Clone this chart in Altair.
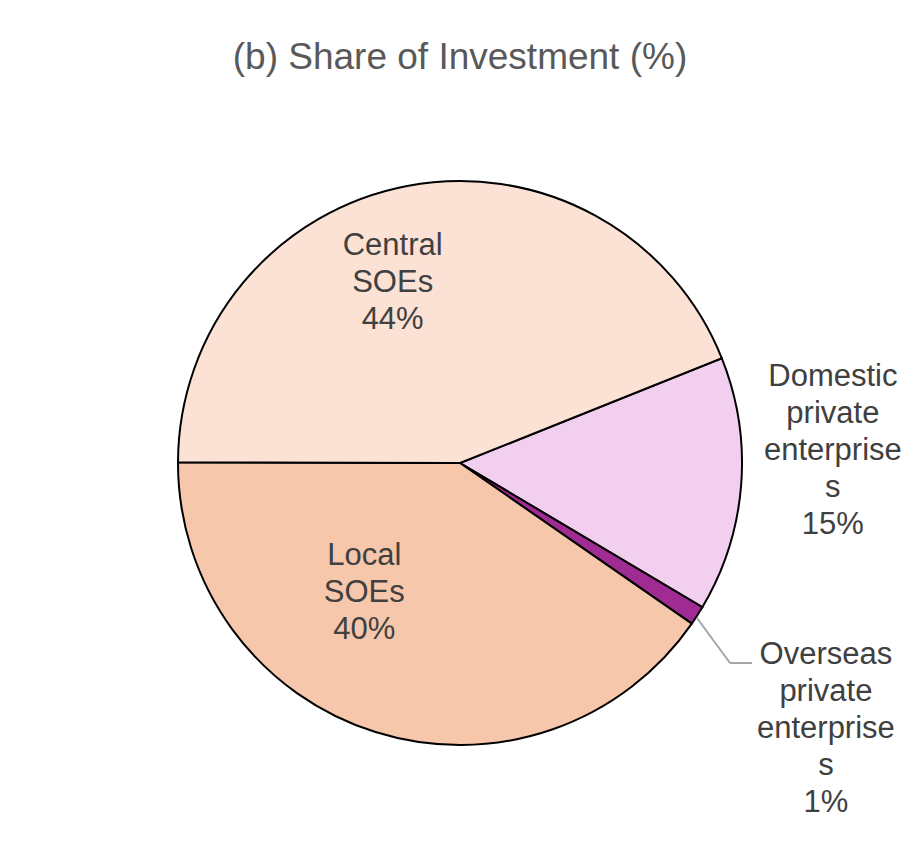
import math

import altair as alt
import pandas as pd

categories = [
    "Domestic private enterprises",
    "Overseas private enterprises",
    "Local SOEs",
    "Central SOEs",
]
label_names = [
    "Domestic\nprivate\nenterprise\ns",
    "Overseas\nprivate\nenterprise\ns",
    "Local\nSOEs",
    "Central\nSOEs",
]
shares = [14.6, 1.1, 40.4, 43.9]
colors = ["#F2CEEF", "#A02B93", "#F7C7AC", "#FBE2D5"]
title_text = "(b) Share of Investment (%)"

df = pd.DataFrame(
    {
        "category": categories,
        "share": shares,
        "order": list(range(len(categories))),
        "label": [f"{n}\n{round(s)}%" for n, s in zip(label_names, shares)],
    }
)

# Central SOEs slice ends at roughly 68 degrees clockwise from 12 o'clock
start = math.radians(68.2)

base = alt.Chart(df).encode(
    alt.Theta("share:Q").stack(True).scale(range=[start, start + 2 * math.pi]),
    alt.Order("order:Q"),
)

pie = base.mark_arc(outerRadius=282, stroke="black", strokeWidth=2).encode(
    alt.Color("category:N").scale(domain=categories, range=colors).legend(None)
)


def slice_label(name, radius, dx=0, dy=0):
    return base.mark_text(
        radius=radius,
        dx=dx,
        dy=dy,
        font="Liberation Sans",
        fontSize=31,
        lineHeight=37,
        lineBreak="\n",
        color="#404040",
        align="center",
        baseline="middle",
    ).encode(
        text=alt.condition(alt.datum.category == name, alt.Text("label:N"), alt.value(""))
    )


# multi-line text is anchored at its first line, so shift blocks up
labels = [
    slice_label("Central SOEs", 183, dx=-33, dy=-37),
    slice_label("Local SOEs", 136, dx=-55, dy=-37),
    slice_label("Domestic private enterprises", 374, dy=-42 - 73),
    slice_label("Overseas private enterprises", 435, dy=30 - 73),
]

leader = alt.Chart(alt.Data(values=[{}])).mark_rule(color="#A6A6A6", strokeWidth=2)
seg1 = leader.encode(
    x=alt.value(689), y=alt.value(510), x2=alt.value(722), y2=alt.value(555)
)
seg2 = leader.encode(
    x=alt.value(722), y=alt.value(555), x2=alt.value(744), y2=alt.value(555)
)

title = alt.Chart(alt.Data(values=[{}])).mark_text(
    text=title_text,
    font="Liberation Sans",
    fontSize=37,
    color="#595959",
    align="center",
    baseline="alphabetic",
).encode(x=alt.value(452), y=alt.value(-39))

chart = (
    alt.layer(pie, *labels, seg1, seg2, title)
    .properties(
        width=904,
        height=710,
        padding={"left": 0, "top": 100, "right": 0, "bottom": 18},
        autosize="none",
    )
    .configure_view(stroke=None)
)

chart.save("out.html", embed_options={"renderer": "svg", "actions": False})
